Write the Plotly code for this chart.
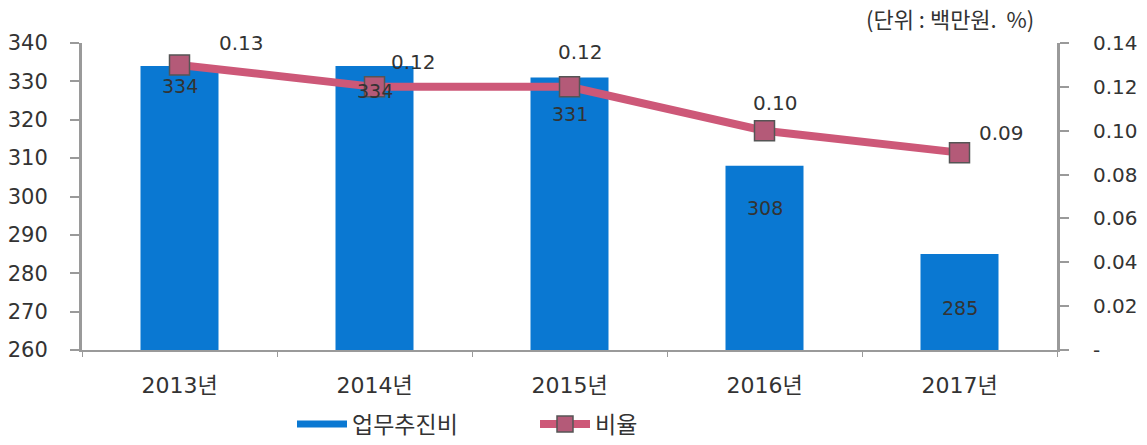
import plotly.graph_objects as go

categories = ["2013년", "2014년", "2015년", "2016년", "2017년"]
expense = [334, 334, 331, 308, 285]          # 업무추진비 (백만원)
ratio = [0.13, 0.12, 0.12, 0.10, 0.09]       # 비율 (%)
ratio_labels = ["0.13", "0.12", "0.12", "0.10", "0.09"]
left_ticks = [260, 270, 280, 290, 300, 310, 320, 330, 340]
right_ticks = [0, 0.02, 0.04, 0.06, 0.08, 0.10, 0.12, 0.14]
right_ticktext = ["-", "0.02", "0.04", "0.06", "0.08", "0.10", "0.12", "0.14"]

# label offsets (pixels) – styling only
bar_label_shift = [-20, -25, -36, -42, -54]
line_label_dx = [62, 39, 11, 11, 42]
line_label_dy = [22, 25, 35, 28, 20]

FONT = "DejaVu Sans, Noto Sans CJK KR, sans-serif"
KFONT = "Noto Sans CJK KR, sans-serif"
BLUE = "#0a78d2"
PINK = "#cd5878"
AXIS = "#9a9a9a"
TXT = "#333333"

fig = go.Figure()
fig.add_trace(go.Bar(
    x=categories, y=expense, width=0.4, marker=dict(color=BLUE, line=dict(width=0)),
    showlegend=False, name="업무추진비", yaxis="y",
))
# legend entry styled as a thick line (like the original)
fig.add_trace(go.Scatter(
    x=[None], y=[None], mode="lines", line=dict(color=BLUE, width=7), name="업무추진비",
))
fig.add_trace(go.Scatter(
    x=categories, y=ratio, yaxis="y2", mode="lines+markers", name="비율",
    line=dict(color=PINK, width=8),
    marker=dict(symbol="square", size=20, color="#b45a78", line=dict(color="#555555", width=1.5)),
))

annotations = []
for c, v, s in zip(categories, expense, bar_label_shift):
    annotations.append(dict(x=c, y=v, xref="x", yref="y", text=str(v), showarrow=False,
                            yshift=s, font=dict(family=FONT, size=19, color=TXT)))
for c, v, t, dx, dy in zip(categories, ratio, ratio_labels, line_label_dx, line_label_dy):
    annotations.append(dict(x=c, y=v, xref="x", yref="y2", text=t, showarrow=False,
                            xshift=dx, yshift=dy, font=dict(family=FONT, size=20, color=TXT)))
annotations.append(dict(x=0.89, y=1.081, xref="paper", yref="paper",
                        text="(단위 : 백만원.  %)",
                        showarrow=False, xanchor="center", yanchor="middle",
                        font=dict(family=KFONT, size=22, color=TXT)))

fig.update_layout(
    width=1147, height=445,
    margin=dict(l=82, r=90, t=43, b=95, autoexpand=False),
    paper_bgcolor="white", plot_bgcolor="white",
    font=dict(family=FONT, size=20, color=TXT),
    annotations=annotations,
    xaxis=dict(
        showline=True, linecolor=AXIS, linewidth=2, showgrid=False, automargin=False,
        ticks="outside", tickson="boundaries", ticklen=5, tickcolor=AXIS,
        tickfont=dict(family=FONT, size=22, color=TXT), ticklabelstandoff=15,
    ),
    yaxis=dict(
        range=[260, 340], tickvals=left_ticks, showgrid=False, zeroline=False, automargin=False,
        showline=True, linecolor=AXIS, linewidth=3, ticks="outside", ticklen=9,
        tickcolor=AXIS, tickwidth=2, tickfont=dict(family=FONT, size=21, color=TXT),
        ticklabelstandoff=18,
    ),
    yaxis2=dict(
        range=[0, 0.14], overlaying="y", side="right", tickvals=right_ticks, automargin=False,
        ticktext=right_ticktext, showgrid=False, zeroline=False,
        showline=True, linecolor=AXIS, linewidth=3, ticks="outside", ticklen=9,
        tickcolor=AXIS, tickwidth=2, tickfont=dict(family=FONT, size=20, color=TXT),
        ticklabelstandoff=20,
    ),
    legend=dict(
        orientation="h", xref="container", yref="container",
        x=292 / 1147, xanchor="left", y=1 - 424 / 445, yanchor="middle",
        itemwidth=50, entrywidth=178,
        font=dict(family=KFONT, size=23, color=TXT), bgcolor="rgba(0,0,0,0)",
    ),
)

fig.write_html("out.html", config={"displayModeBar": False},
               post_script="document.body.style.margin='0';document.body.style.overflow='hidden';")
